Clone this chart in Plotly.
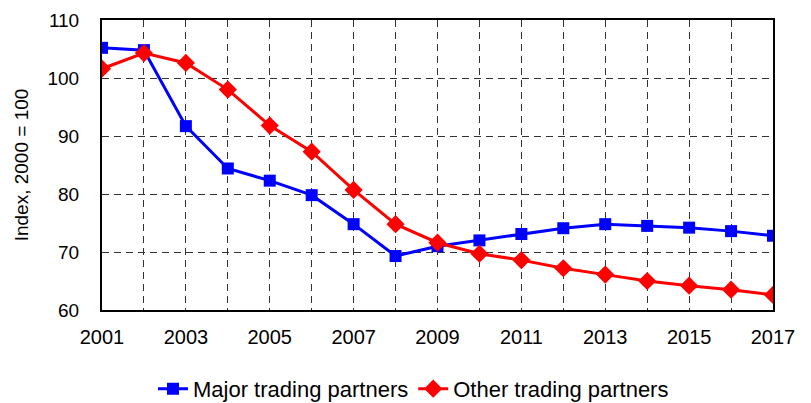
import plotly.graph_objects as go

years = list(range(2001, 2018))
major = [105.2, 104.8, 91.7, 84.4, 82.3, 79.8, 74.8, 69.3, 71.0, 72.0, 73.1, 74.1, 74.8, 74.5, 74.2, 73.6, 72.8]
other = [101.6, 104.3, 102.6, 98.0, 91.8, 87.3, 80.7, 74.8, 71.6, 69.7, 68.6, 67.2, 66.1, 65.0, 64.2, 63.5, 62.6]
x_labels = [str(y) if (y - 2001) % 2 == 0 else "" for y in years]
y_ticks = [60, 70, 80, 90, 100, 110]

fig = go.Figure()
fig.add_trace(go.Scatter(x=years, y=major, name="Major trading partners", mode="lines+markers",
                         line=dict(color="#0000FF", width=3),
                         marker=dict(symbol="square", size=12, color="#0000FF")))
fig.add_trace(go.Scatter(x=years, y=other, name="Other trading partners", mode="lines+markers",
                         line=dict(color="#FF0000", width=3),
                         marker=dict(symbol="diamond", size=14, color="#FF0000")))

fig.update_layout(
    width=811, height=403,
    margin=dict(l=94, r=46, t=12, b=101, autoexpand=False),
    paper_bgcolor="white", plot_bgcolor="white",
    font=dict(family="Liberation Sans, Arial, sans-serif", size=20, color="black"),
    showlegend=True,
    legend=dict(orientation="h", x=0.5, xanchor="center", xref="container",
                y=0.055, yanchor="middle", yref="container",
                font=dict(size=22), tracegroupgap=0),
    xaxis=dict(range=[2001, 2017], tickvals=years, ticktext=x_labels,
               showgrid=True, gridcolor="#333333", griddash="7px,5px", gridwidth=1,
               showline=True, linecolor="black", linewidth=2, mirror=True,
               ticks="", ticklabelstandoff=8, ticklabeloverflow="allow", zeroline=False),
    yaxis=dict(range=[60, 110], tickvals=y_ticks, tickfont=dict(size=19),
               title=dict(text="Index, 2000 = 100", font=dict(size=19), standoff=14),
               showgrid=True, gridcolor="#333333", griddash="7px,5px", gridwidth=1,
               showline=True, linecolor="black", linewidth=2, mirror=True,
               ticks="", ticklabelstandoff=17, ticklabeloverflow="allow", zeroline=False),
)
fig.write_html("out.html")
